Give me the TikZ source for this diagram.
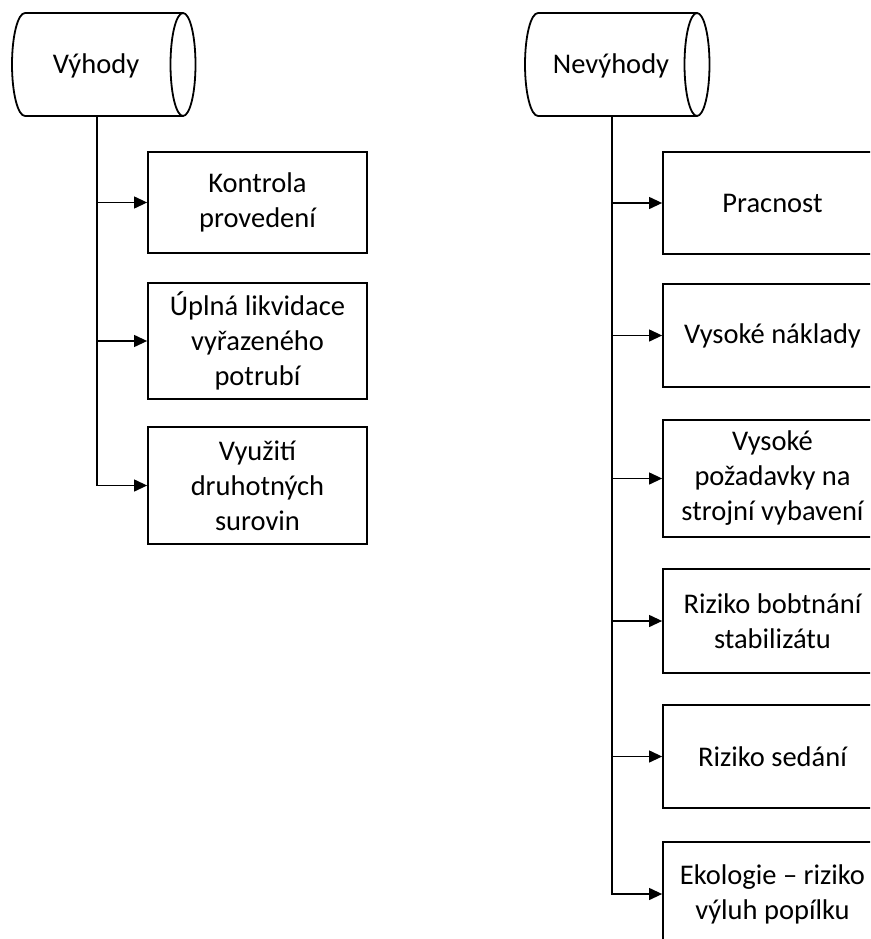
\documentclass[tikz,border=0pt]{standalone}
\usepackage{fontspec}
\setmainfont{Carlito}
\usetikzlibrary{arrows.meta}

\tikzset{
  item/.style={draw, line width=1.8pt, rectangle, minimum width=219pt, align=center,
               inner sep=0pt, font=\fontsize{28.5}{35}\selectfont},
  head/.style={font=\fontsize{28.5}{35}\selectfont, inner sep=0pt},
  drum/.style={draw, line width=1.8pt},
  link/.style={line width=1.2pt, -{Triangle[length=13pt,width=12pt]}}
}

\begin{document}
\begin{tikzpicture}[x=1pt,y=-1pt]
  \useasboundingbox (0,0) rectangle (870,939);
  \clip (0,0) rectangle (870,939);

  % header drums (horizontal cylinders)
  \draw[drum] (25,13) -- (183,13) (25,116) -- (183,116)
              (25,13) arc[start angle=-90, end angle=-270, x radius=13, y radius=51.5];
  \draw[drum] (183,64.5) ellipse[x radius=12.5, y radius=51.5];
  \node[head] (hL) at (96,66) {Výhody};
  \coordinate (hLb) at (97,116);

  \draw[drum] (538,13) -- (697,13) (538,116) -- (697,116)
              (538,13) arc[start angle=-90, end angle=-270, x radius=13, y radius=51.5];
  \draw[drum] (697,64.5) ellipse[x radius=12.5, y radius=51.5];
  \node[head] (hR) at (611,66) {Nevýhody};
  \coordinate (hRb) at (612,116);

  % advantages
  \node[item, minimum height=101pt] (a1) at (257.5,202.5) {Kontrola\\provedení};
  \node[item, minimum height=116pt] (a2) at (257.5,341) {Úplná likvidace\\vyřazeného\\potrubí};
  \node[item, minimum height=117pt] (a3) at (257.5,485.5) {Využití\\druhotných\\surovin};

  % disadvantages
  \node[item, minimum height=102pt] (d1) at (772.5,203) {Pracnost};
  \node[item, minimum height=103pt] (d2) at (772.5,335.5) {Vysoké náklady};
  \node[item, minimum height=117pt] (d3) at (772.5,478.5) {Vysoké\\požadavky na\\strojní vybavení};
  \node[item, minimum height=104pt] (d4) at (772.5,621) {Riziko bobtnání\\stabilizátu};
  \node[item, minimum height=103pt] (d5) at (772.5,756.5) {Riziko sedání};
  \node[item, minimum height=104pt] (d6) at (772.5,894) {Ekologie – riziko\\výluh popílku};

  % connectors
  \foreach \b in {a1,a2,a3} \draw[link] (hLb) |- (\b.west);
  \foreach \b in {d1,d2,d3,d4,d5,d6} \draw[link] (hRb) |- (\b.west);
\end{tikzpicture}
\end{document}
